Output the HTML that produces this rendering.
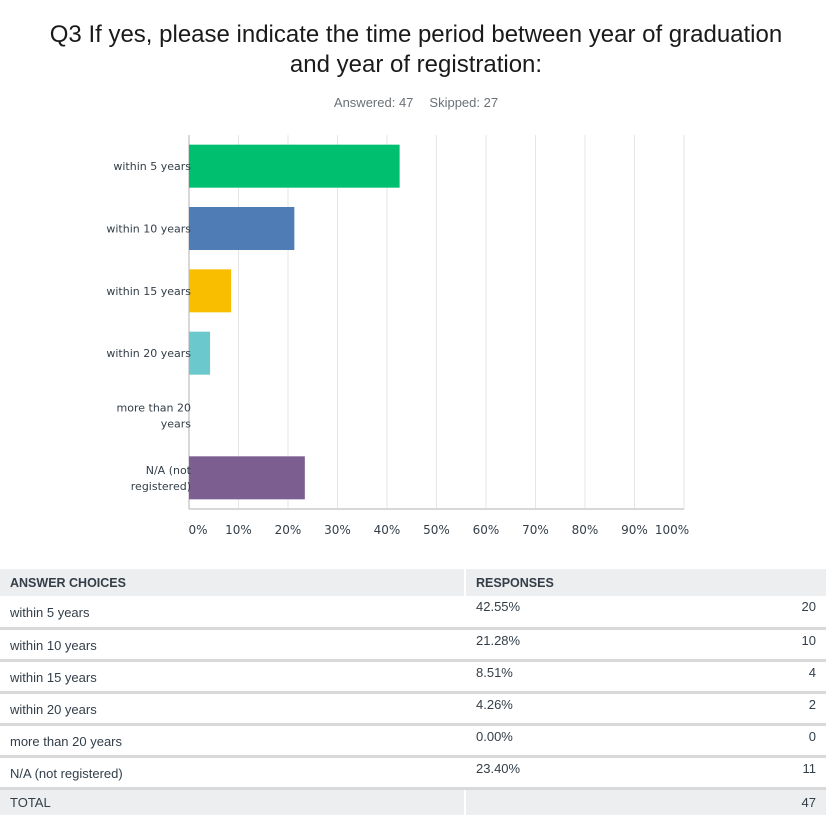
<!DOCTYPE html>
<html><head><meta charset="utf-8">
<style>
body{margin:0;width:832px;height:822px;background:#fff;font-family:"Liberation Sans",sans-serif;position:relative;overflow:hidden}
#title{position:absolute;top:20px;left:0;width:832px;text-align:center;font-size:24px;line-height:30px;color:#1a1a1a}
#stats{position:absolute;top:95px;left:0;width:832px;text-align:center;font-size:13px;color:#6a7178}
#stats span{margin:0 8px}
svg{position:absolute;left:0;top:0}
table{position:absolute;left:0;top:569px;width:826px;border-collapse:collapse;font-size:13px;color:#333e48}
td{padding:0 10px;height:29px;border-bottom:3px solid #d7d9db;box-sizing:border-box}
tr.r td{height:32px;padding-top:2px}
tr.h td{background:#eceeef;font-weight:bold;height:27px;border-bottom:none;font-size:12.5px}
tr.t td{background:#eceeef;border-bottom:none;height:27px}
td.c1{width:465px;border-right:2px solid #fff}
tr.r td.p,tr.r td.n{vertical-align:top;padding-top:3px}
td.n{text-align:right}
</style></head><body>
<div id="title">Q3 If yes, please indicate the time period between year of graduation<br>and year of registration:</div>
<div id="stats"><span>Answered: 47</span><span>Skipped: 27</span></div>
<svg id="chart" width="832" height="560"></svg>
<table>
<tr class="h"><td class="c1">ANSWER CHOICES</td><td colspan="2">RESPONSES</td></tr>
<tr class="r"><td class="c1">within 5 years</td><td class="p">42.55%</td><td class="n">20</td></tr>
<tr class="r"><td class="c1">within 10 years</td><td class="p">21.28%</td><td class="n">10</td></tr>
<tr class="r"><td class="c1">within 15 years</td><td class="p">8.51%</td><td class="n">4</td></tr>
<tr class="r"><td class="c1">within 20 years</td><td class="p">4.26%</td><td class="n">2</td></tr>
<tr class="r"><td class="c1">more than 20 years</td><td class="p">0.00%</td><td class="n">0</td></tr>
<tr class="r"><td class="c1">N/A (not registered)</td><td class="p">23.40%</td><td class="n">11</td></tr>
<tr class="t"><td class="c1">TOTAL</td><td></td><td class="n">47</td></tr>
</table>
<script>
const categories=[["within 5 years"],["within 10 years"],["within 15 years"],["within 20 years"],["more than 20","years"],["N/A (not","registered)"]];
const values=[42.55,21.28,8.51,4.26,0,23.40];
const colors=["#00bf6f","#507cb6","#f9be00","#6bc8cd","#ff8b4f","#7d5e90"];
const ticks=[0,10,20,30,40,50,60,70,80,90,100];
const NS="http://www.w3.org/2000/svg";
const svg=document.getElementById('chart');
const x0=189,x1=684,plotTop=135,plotBot=509;
const band=(plotBot-plotTop)/categories.length;
const xs=v=>x0+(x1-x0)*v/100;
const yc=i=>plotTop+band*i+band/2;
function mk(t,a){const e=document.createElementNS(NS,t);for(const k in a)e.setAttribute(k,a[k]);svg.appendChild(e);return e;}
ticks.forEach(t=>{
 if(t>0){const g=mk('line',{x1:xs(t),x2:xs(t),y1:plotTop,y2:plotBot,stroke:'#e6e6e6','stroke-width':1});
 
 }
 const l=mk('text',{x:xs(t)+(t==100?-12:t==0?9:0),y:534,'text-anchor':'middle','font-size':12,fill:'#333e48','font-family':'DejaVu Sans, sans-serif'});
 l.textContent=t+'%';
 
 
});
const ax=mk('line',{x1:x0,x2:x0,y1:plotTop,y2:plotBot,stroke:'#cccccc','stroke-width':1.5});


const ax2=mk('line',{x1:x0,x2:x1,y1:plotBot,y2:plotBot,stroke:'#cccccc','stroke-width':1.5});


values.forEach((v,i)=>{
 const h=band*0.69;
 if(v>0){const r=mk('rect',{x:x0,y:yc(i)-h/2,width:xs(v)-x0,height:h,fill:colors[i]});
 
 }
 const lines=categories[i];
 lines.forEach((s,j)=>{
  const t=mk('text',{x:191,y:yc(i)+4+(j-(lines.length-1)/2)*16,'text-anchor':'end','font-size':11,fill:'#333e48','font-family':'DejaVu Sans, sans-serif'});
  t.textContent=s;
  
  
 });
});
</script>
</body></html>
